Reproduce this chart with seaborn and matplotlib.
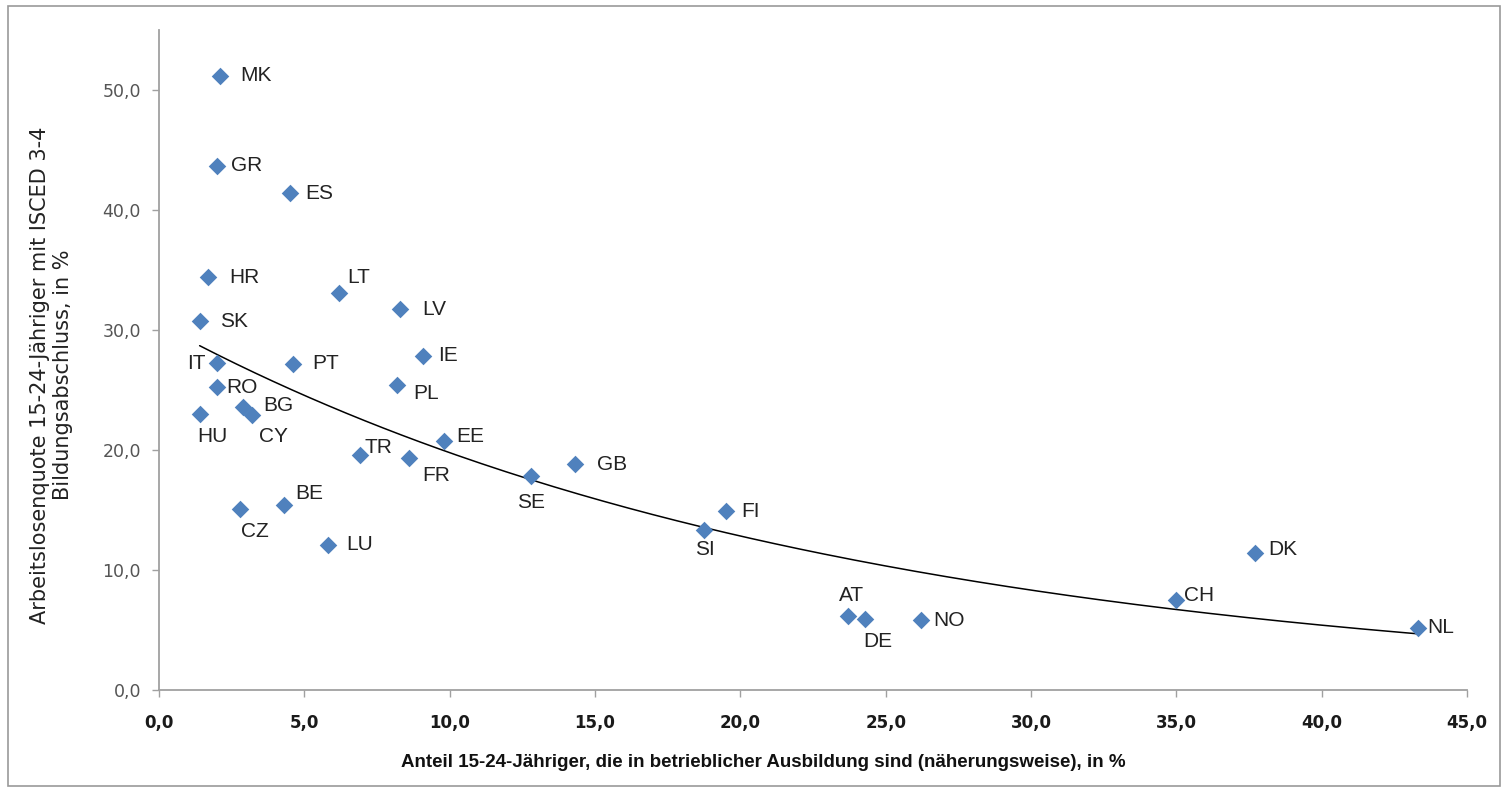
import numpy as np
import pandas as pd
import matplotlib
matplotlib.use("Agg")
import matplotlib.pyplot as plt
from matplotlib.ticker import FuncFormatter, MultipleLocator
import seaborn as sns

# Ländercodes und Werte
laender = ["MK", "GR", "ES", "HR", "LT", "LV", "SK", "IE", "IT", "PT",
           "RO", "PL", "BG", "CY", "HU", "EE", "TR", "FR", "SE", "GB",
           "BE", "CZ", "FI", "SI", "LU", "DK", "CH", "AT", "DE", "NO", "NL"]
anteil_ausbildung = [2.1, 2.0, 4.5, 1.7, 6.2, 8.3, 1.4, 9.1, 2.0, 4.6,
                     2.0, 8.2, 2.9, 3.2, 1.4, 9.8, 6.9, 8.6, 12.8, 14.3,
                     4.3, 2.8, 19.5, 18.75, 5.8, 37.7, 35.0, 23.7, 24.3, 26.2, 43.3]
arbeitslosenquote = [51.2, 43.7, 41.4, 34.4, 33.1, 31.75, 30.75, 27.8, 27.25, 27.2,
                     25.25, 25.4, 23.6, 22.9, 23.0, 20.75, 19.6, 19.3, 17.8, 18.8,
                     15.4, 15.1, 14.9, 13.3, 12.1, 11.4, 7.5, 6.2, 5.9, 5.8, 5.2]

# Beschriftungsversatz in Pixeln (dx, dy, ha)
versatz = {
    "MK": (20, 0, "left"), "GR": (14, 0, "left"), "ES": (16, 0, "left"),
    "HR": (21, 0, "left"), "LT": (8, 15, "left"), "LV": (22, 0, "left"),
    "SK": (20, 0, "left"), "IE": (15, 1, "left"), "IT": (-11, 0, "right"),
    "PT": (20, 0, "left"), "RO": (9, 0, "left"), "PL": (16, -8, "left"),
    "BG": (20, 1, "left"), "CY": (7, -21, "left"), "HU": (-2, -22, "left"),
    "EE": (12, 5, "left"), "TR": (5, 7, "left"), "FR": (13, -17, "left"),
    "SE": (0, -26, "center"), "GB": (22, 0, "left"), "BE": (11, 12, "left"),
    "CZ": (1, -23, "left"), "FI": (15, 0, "left"), "SI": (1, -19, "center"),
    "LU": (19, 0, "left"), "DK": (13, 4, "left"), "CH": (8, 4, "left"),
    "AT": (-9, 20, "left"), "DE": (-2, -22, "left"), "NO": (13, 0, "left"),
    "NL": (10, 0, "left"),
}

df = pd.DataFrame({"land": laender, "x": anteil_ausbildung, "y": arbeitslosenquote})

sns.set_style("white")
plt.rcParams["font.family"] = ["Liberation Sans", "DejaVu Sans"]

fig = plt.figure(figsize=(15.08, 7.91), dpi=100)
ax = fig.add_axes([0.1054, 0.1277, 0.8674, 0.8343])

# Exponentieller Trend (wie Excel: lineare Regression auf ln(y))
b, ln_a = np.polyfit(df["x"], np.log(df["y"]), 1)
xs = np.linspace(df["x"].min(), df["x"].max(), 200)
ax.plot(xs, np.exp(ln_a) * np.exp(b * xs), color="black", lw=1.1, zorder=2)

sns.scatterplot(data=df, x="x", y="y", marker="D", s=80, color="#4F81BD",
                edgecolor="#4F81BD", linewidth=0, ax=ax, zorder=3)

for land, x, y in zip(df["land"], df["x"], df["y"]):
    dx, dy, ha = versatz[land]
    ax.annotate(land, (x, y), xytext=(dx, dy), textcoords="offset pixels",
                ha=ha, va="center", fontsize=15, color="#222222")

ax.set_xlim(0, 45)
ax.set_ylim(0, 55)
ax.xaxis.set_major_locator(MultipleLocator(5))
ax.yaxis.set_major_locator(MultipleLocator(10))
fmt = FuncFormatter(lambda v, p: f"{v:.1f}".replace(".", ","))
ax.xaxis.set_major_formatter(fmt)
ax.yaxis.set_major_formatter(fmt)

for s in ["top", "right"]:
    ax.spines[s].set_visible(False)
for s in ["left", "bottom"]:
    ax.spines[s].set_color("#A0A0A0")
    ax.spines[s].set_linewidth(1.3)
ax.tick_params(axis="both", direction="out", length=5, width=1, color="#A0A0A0",
               bottom=True, left=True)
ax.tick_params(axis="x", pad=12)
ax.tick_params(axis="y", pad=8)
for t in ax.get_xticklabels():
    t.set_fontfamily("DejaVu Sans")
    t.set_fontweight("bold")
    t.set_fontsize(12)
    t.set_color("#1a1a1a")
for t in ax.get_yticklabels():
    t.set_fontfamily("DejaVu Sans")
    t.set_fontsize(12.5)
    t.set_color("#555555")

ax.set_xlabel("Anteil 15-24-Jähriger, die in betrieblicher Ausbildung sind (näherungsweise), in %",
              fontsize=13.5, fontweight="bold", color="#111111")
ax.xaxis.set_label_coords(0.462, -0.097)
ax.set_ylabel("Arbeitslosenquote 15-24-Jähriger mit ISCED 3-4\nBildungsabschluss, in %",
              fontsize=15, family="DejaVu Sans", color="#222222", linespacing=1.15)
ax.yaxis.set_label_coords(-0.066, 0.477)

# Rahmen um den Diagrammbereich
fig.patches.append(plt.Rectangle((0.005, 0.006), 0.99, 0.986, transform=fig.transFigure,
                                 fill=False, edgecolor="#999999", lw=1.2))

fig.savefig("out.png", dpi=100)
